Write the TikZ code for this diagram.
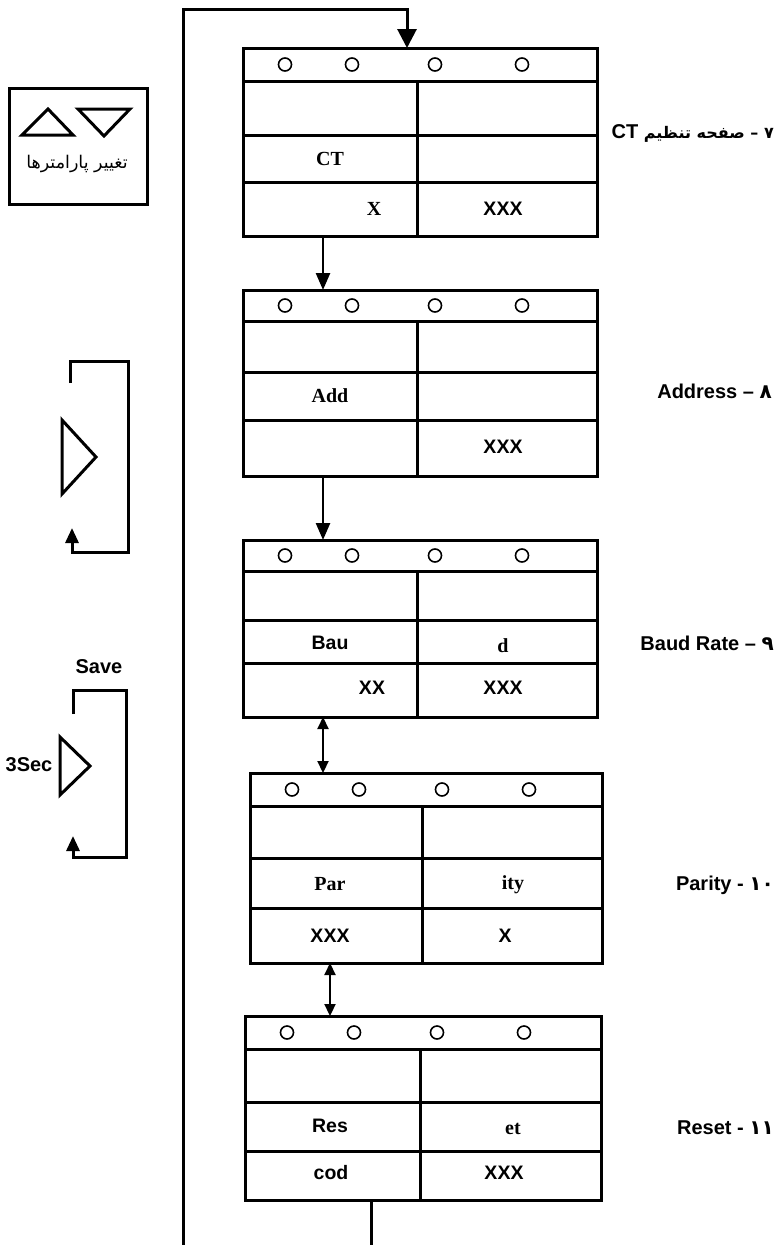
\documentclass[tikz,border=0pt]{standalone}
\usepackage{fontspec}
\setmainfont{Liberation Serif}
\newfontfamily\sansf{Liberation Sans}
\newfontfamily\arabicfont[Script=Arabic]{DejaVu Sans}
\TeXXeTstate=1
\usetikzlibrary{calc,arrows.meta}
\tikzset{
  panelbox/.style={draw, line width=3pt, inner sep=0pt, outer sep=0pt},
  pline/.style={line width=3pt},
  dotc/.style={line width=1.6pt},
  serifT/.style={font=\fontsize{20}{22}\selectfont\bfseries, inner sep=0pt},
  sansT/.style={font=\sansf\fontsize{19.5}{22}\selectfont\bfseries, inner sep=0pt},
  lab/.style={font=\sansf\fontsize{20}{22}\selectfont\bfseries, inner sep=0pt, anchor=east},
  arr/.style={line width=2.5pt, -{Triangle[length=17pt,width=14pt]}},
  darr/.style={line width=2.2pt, {Triangle[length=12pt,width=11pt]}-{Triangle[length=12pt,width=11pt]}},
  loopline/.style={line width=3pt, -{Triangle[length=19pt,width=19pt]}},
  deco/.style={line width=3pt},
  decoarr/.style={line width=3pt, -{Triangle[length=15pt,width=13pt]}},
}
\newcommand\mypanel[9]{%
  \node[panelbox, minimum width=#4pt, minimum height=#5pt, anchor=north west] (#1) at (#2,#3) {};
  \draw[pline] ($(#1.north west)+(0,#6)$) -- ($(#1.north east)+(0,#6)$);
  \draw[pline] ($(#1.north west)+(0,#7)$) -- ($(#1.north east)+(0,#7)$);
  \draw[pline] ($(#1.north west)+(0,#8)$) -- ($(#1.north east)+(0,#8)$);
  \draw[pline] ($(#1.north west)+(#9,#6)$) -- ($(#1.south west)+(#9,0)$);
  \foreach \cx in {42,109,192,279}{\draw[dotc] ($(#1.north west)+(\cx,#6/2)$) circle (6.5pt);}
}
\begin{document}
\begin{tikzpicture}[x=1pt,y=-1pt]
\useasboundingbox (0,0) rectangle (777,1245);
\clip (0,0) rectangle (777,1245);

% panels
\mypanel{b1}{243}{48}{354}{188}{33}{87}{134}{174}
\mypanel{b2}{243}{290}{354}{186}{31}{82}{130}{174}
\mypanel{b3}{243}{540}{354}{177}{31}{80}{123}{174}
\mypanel{b4}{250}{773}{352}{190}{33}{85}{135}{172}
\mypanel{b5}{245}{1016}{356}{184}{33}{86}{135}{175}

% panel texts
\node[serifT] (t1a) at (330,159) {CT};
\node[serifT] (t1b) at (374,209) {X};
\node[sansT] (t1c) at (503,209) {XXX};
\node[serifT] (t2a) at (330,396) {Add};
\node[sansT] (t2b) at (503,447) {XXX};
\node[sansT] (t3a) at (330,643) {Bau};
\node[serifT] (t3b) at (503,646) {d};
\node[sansT] (t3c) at (372,688) {XX};
\node[sansT] (t3d) at (503,688) {XXX};
\node[serifT] (t4a) at (330,884) {Par};
\node[serifT] (t4b) at (513,885) {ity};
\node[sansT] (t4c) at (330,936) {XXX};
\node[sansT] (t4d) at (505,936) {X};
\node[sansT] (t5a) at (330,1126) {Res};
\node[serifT] (t5b) at (513,1129) {et};
\node[sansT] (t5c) at (331,1173) {cod};
\node[sansT] (t5d) at (504,1173) {XXX};

% right labels
\node[lab] (l1) at (774,133) {\arabicfont\fontsize{16}{18}\selectfont\bfseries\beginR ۷ – صفحه تنظیم \beginL{\sansf\fontsize{20}{22}\selectfont CT}\endL\endR};
\node[lab] (l2) at (772,391) {Address – {\arabicfont\bfseries ۸}};
\node[lab] (l3) at (774,643) {Baud Rate – {\arabicfont\bfseries ۹}};
\node[lab] (l4) at (774,885) {Parity - {\arabicfont\bfseries ۱۰}};
\node[lab] (l5) at (774,1128) {Reset - {\arabicfont\bfseries ۱۱}};

% connectors
\draw[arr] ($(b1.south west)+(80,0)$) -- ($(b2.north west)+(80,0)$);
\draw[arr] ($(b2.south west)+(80,0)$) -- ($(b3.north west)+(80,0)$);
\draw[darr] ($(b3.south west)+(80,0)$) -- ($(b4.north west)+(73,0)$);
\draw[darr] ($(b4.south west)+(80,0)$) -- ($(b5.north west)+(85,0)$);
\draw[loopline] ($(b5.south west)+(126,0)$) -- ++(0,80) -- ++(-188,0) |- ($(b1.north west)+(164,-39)$) -- ($(b1.north west)+(164,0)$);

% key box (top left)
\node[draw, line width=2.5pt, minimum width=138pt, minimum height=116pt, anchor=north west, inner sep=0pt] (keybox) at (8,87) {};
\draw[deco] (22,135) -- (73,135) -- (48,109) -- cycle;
\draw[deco] (78,109) -- (130,109) -- (104,136) -- cycle;
\node[font=\arabicfont\fontsize{17.5}{20}\selectfont, inner sep=0pt] (keytxt) at (77,164) {\beginR تغییر پارامترها\endR};

% middle bracket
\draw[deco] (62,420) -- (62,494) -- (96,457) -- cycle;
\draw[decoarr] (70,383) -- (70,361) -- (128,361) -- (128,552) -- (72,552) -- (72,528);

% save bracket
\node[font=\sansf\fontsize{20}{22}\selectfont\bfseries, inner sep=0pt] (save) at (99,667) {Save};
\node[font=\sansf\fontsize{20}{22}\selectfont\bfseries, inner sep=0pt] (sec) at (29,765) {3Sec};
\draw[deco] (60,737) -- (60,795) -- (90,766) -- cycle;
\draw[decoarr] (73,714) -- (73,690) -- (126,690) -- (126,857) -- (73,857) -- (73,836);
\end{tikzpicture}
\end{document}
